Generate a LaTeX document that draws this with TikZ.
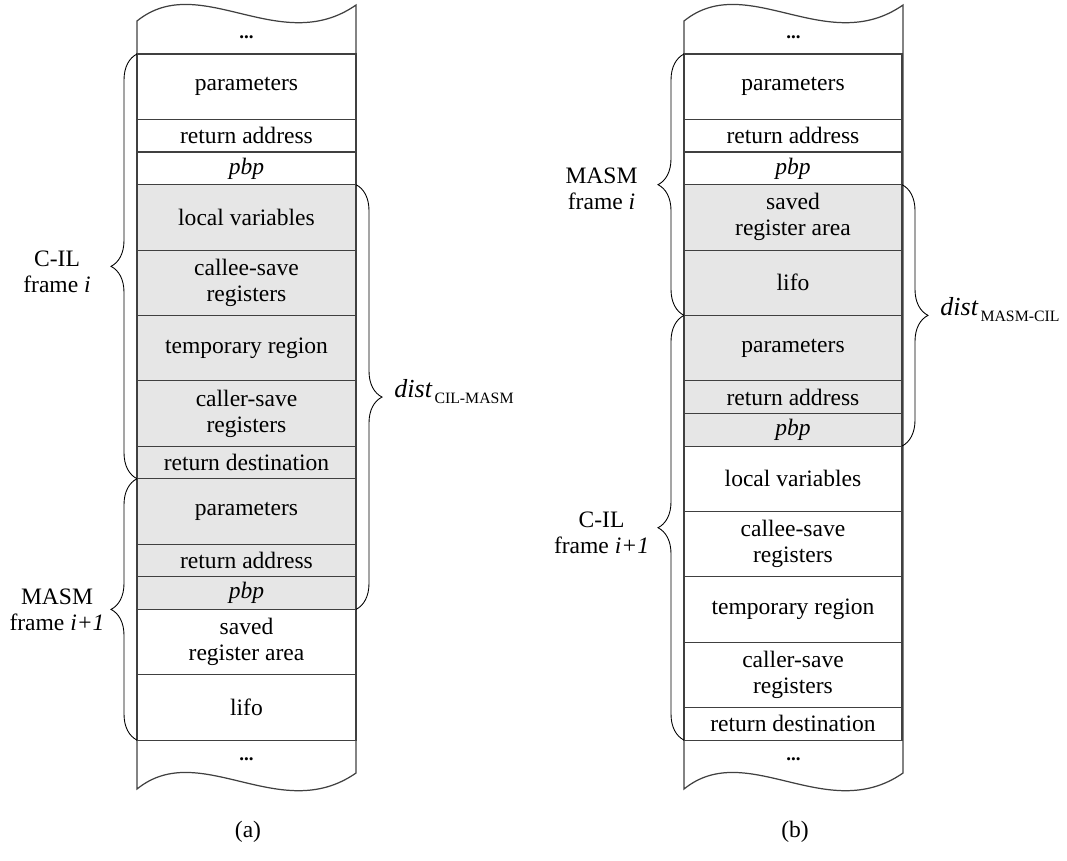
\documentclass[tikz,border=0pt]{standalone}
\usepackage{fontspec}
\setmainfont{Liberation Serif}
\usetikzlibrary{decorations.pathreplacing}
\definecolor{slotgray}{HTML}{E6E6E6}
\definecolor{slotline}{HTML}{404040}
\newcommand{\distlabel}[1]{{\fontsize{14.8}{16}\selectfont\itshape dist}\hspace{0.05cm}{\fontsize{9}{10}\selectfont\raisebox{-0.12cm}{#1}}}

\begin{document}
\begin{tikzpicture}[x=0.02cm, y=-0.02cm,
  slot/.style={draw=slotline, line width=0.6pt},
  slottext/.style={font=\fontsize{13.4}{14.8}\selectfont, align=center, inner sep=0pt},
  stackdots/.style={font=\fontsize{10.8}{12}\selectfont\bfseries, inner sep=0pt},
  stackline/.style={draw=slotline, line width=0.7pt},
  framebrace/.style={decorate, decoration={brace, amplitude=0.52cm}, line width=0.5pt},
  framelabel/.style={font=\fontsize{13.4}{14.8}\selectfont, align=center, inner sep=0pt},
  distlbl/.style={anchor=base west, inner sep=0pt, xshift=0.76cm}]
  \useasboundingbox (0,0) rectangle (1067,860);

  % (a) C-IL frame i calls MASM frame i+1
  \foreach \a/\b/\fc/\txt in {0/2/white/parameters, 2/3/white/return address,
      3/4/white/\textit{pbp}, 4/6/slotgray/local variables,
      6/8/slotgray/{callee-save\\registers}, 8/10/slotgray/temporary region,
      10/12/slotgray/{caller-save\\registers}, 12/13/slotgray/return destination,
      13/15/slotgray/parameters, 15/16/slotgray/return address,
      16/17/slotgray/\textit{pbp}, 17/19/white/{saved\\register area},
      19/21/white/lifo} {
    \draw[slot, fill=\fc] (137,{54+\a*32.67}) rectangle (356,{54+\b*32.67});
    \node[slottext] (la-\a) at (246.5,{54+(\a+\b)*16.335}) {\txt};
  }

  % (b) MASM frame i calls C-IL frame i+1
  \foreach \a/\b/\fc/\txt in {0/2/white/parameters, 2/3/white/return address,
      3/4/white/\textit{pbp}, 4/6/slotgray/{saved\\register area},
      6/8/slotgray/lifo, 8/10/slotgray/parameters,
      10/11/slotgray/return address, 11/12/slotgray/\textit{pbp},
      12/14/white/local variables, 14/16/white/{callee-save\\registers},
      16/18/white/temporary region, 18/20/white/{caller-save\\registers},
      20/21/white/return destination} {
    \draw[slot, fill=\fc] (684,{54+\a*32.67}) rectangle (902,{54+\b*32.67});
    \node[slottext] (rb-\a) at (793,{54+(\a+\b)*16.335}) {\txt};
  }

  % torn stack outlines
  \foreach \sx/\nm in {137/a, 684/b} {
    \draw[stackline] (\sx,21) .. controls ({\sx+63},-30) and ({\sx+143},58) .. ({\sx+219},5)
      -- ({\sx+219},773) .. controls ({\sx+143},826) and ({\sx+63},738) .. (\sx,789) -- cycle;
    \node[stackdots] (top-\nm) at ({\sx+109.5},37) {...};
    \node[stackdots] (bot-\nm) at ({\sx+109.5},759) {...};
  }

  % braces (a)
  \draw[framebrace] (137,{54+13*32.67}) -- (137,54)
    node[framelabel, midway, xshift=-1.6cm, yshift=-0.1cm] (cila) {C-IL\\frame \textit{i}};
  \draw[framebrace] (137,{54+21*32.67}) -- (137,{54+13*32.67})
    node[framelabel, midway, xshift=-1.6cm] (masma) {MASM\\frame \textit{i+1}};
  \draw[framebrace] (356,{54+4*32.67}) -- (356,{54+17*32.67})
    node[distlbl, midway] (dista) {\distlabel{CIL-MASM}};

  % braces (b)
  \draw[framebrace] (684,{54+8*32.67}) -- (684,54)
    node[framelabel, midway, xshift=-1.65cm, yshift=-0.08cm] (masmb) {MASM\\frame \textit{i}};
  \draw[framebrace] (684,{54+21*32.67}) -- (684,{54+8*32.67})
    node[framelabel, midway, xshift=-1.65cm, yshift=-0.1cm] (cilb) {C-IL\\frame \textit{i+1}};
  \draw[framebrace] (902,{54+4*32.67}) -- (902,{54+12*32.67})
    node[distlbl, midway] (distb) {\distlabel{MASM-CIL}};

  % captions
  \node[slottext] (capa) at (248,832) {(a)};
  \node[slottext] (capb) at (795,832) {(b)};
\end{tikzpicture}
\end{document}
